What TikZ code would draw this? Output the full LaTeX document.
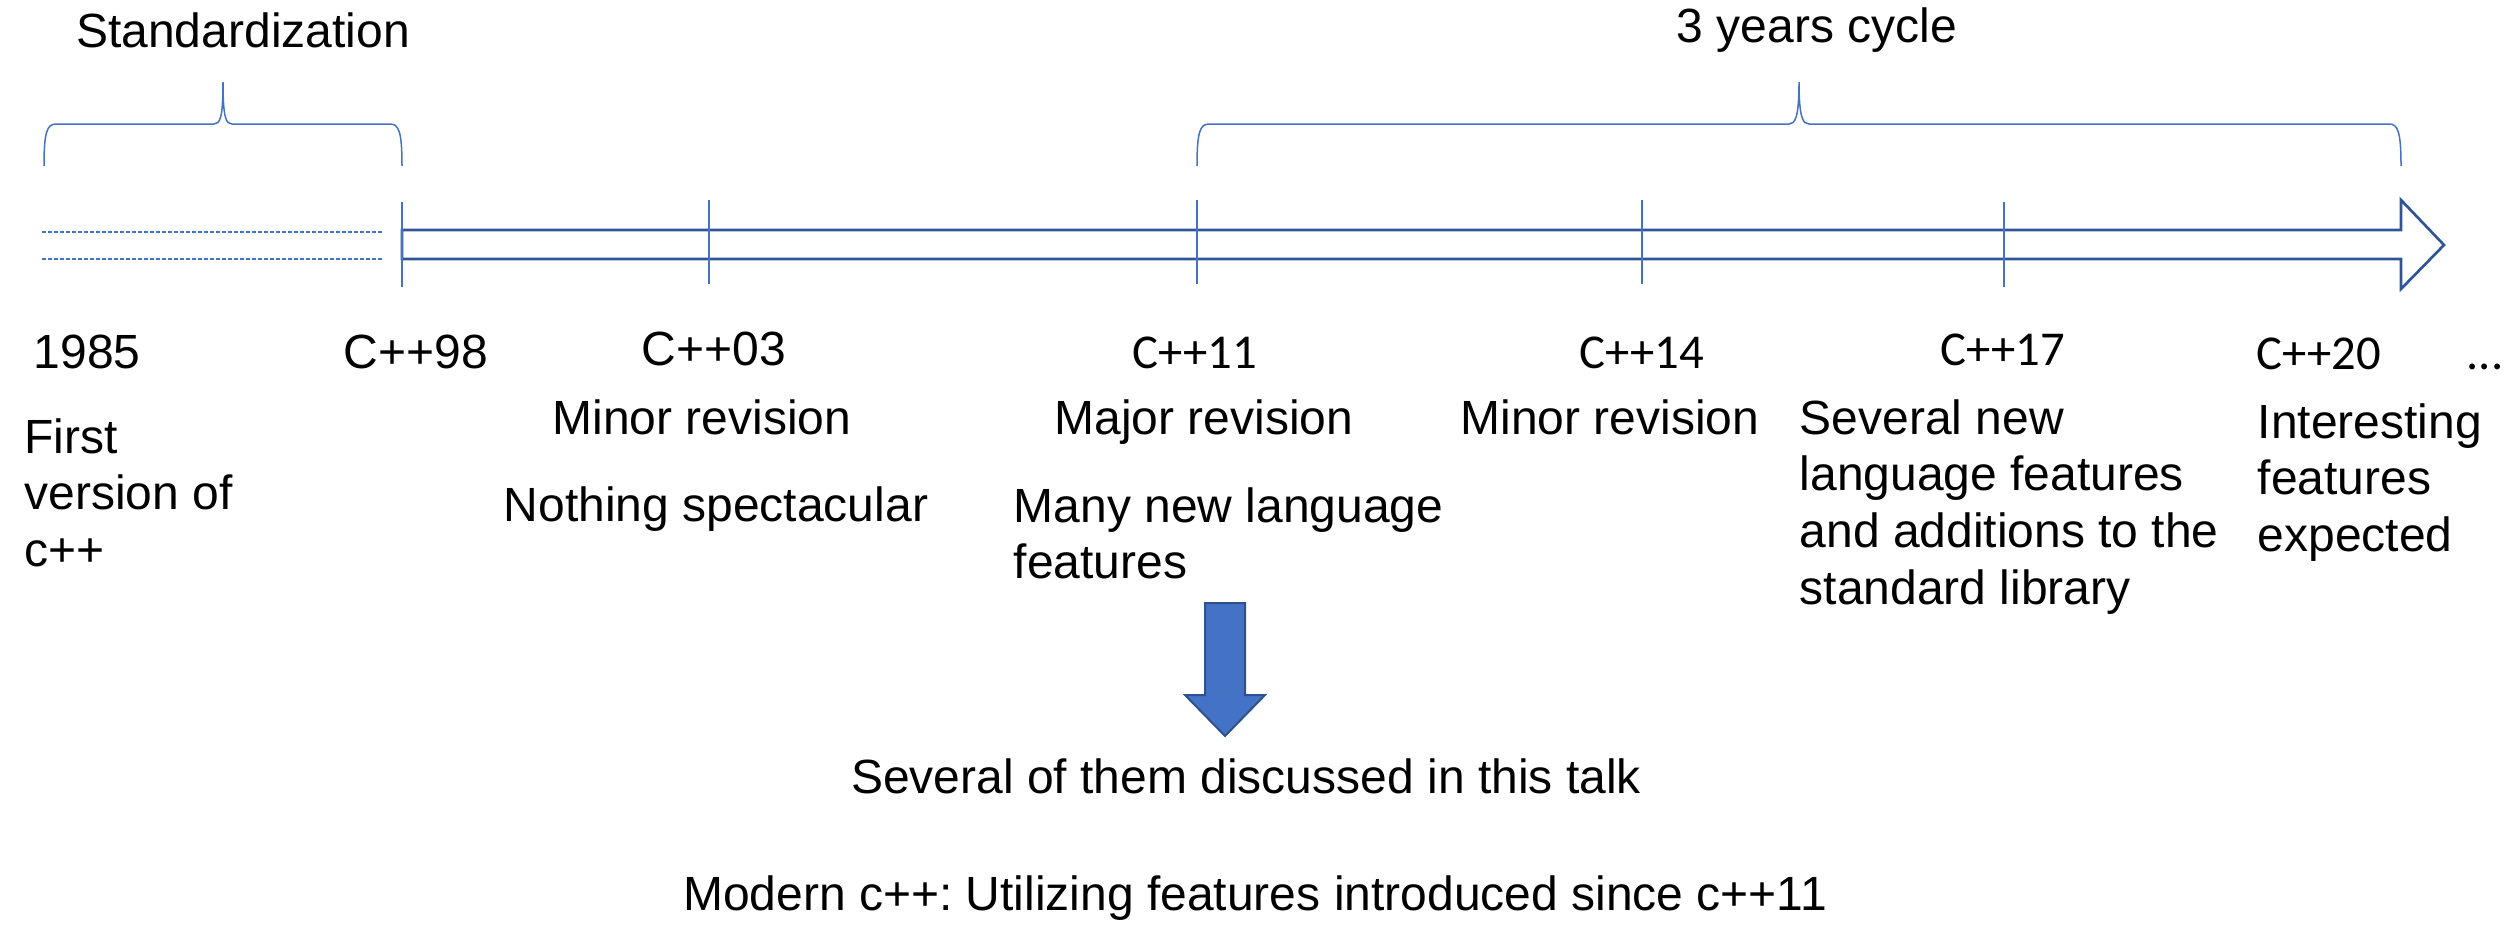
\documentclass[tikz,border=0pt]{standalone}
\usepackage{fontspec}
\setmainfont{Liberation Sans}
\newfontfamily\calibrifont{Carlito}
\definecolor{lineblue}{HTML}{4472C4}
\definecolor{darkblue}{HTML}{2F5597}
\definecolor{edgeblue}{HTML}{2F528F}
% stacked lines whose baseline is that of the first line
\newcommand\linestack[1]{\vtop{#1}}
\frenchspacing
\begin{document}
\begin{tikzpicture}[x=0.3pt,y=-0.3pt,
  txt/.style={inner sep=0pt, font=\fontsize{14.4pt}{17pt}\selectfont},
  txtw/.style={txt, anchor=base west},
  txtc/.style={txt, anchor=base},
  ver/.style={inner sep=0pt, anchor=base, font=\calibrifont\fontsize{14.6pt}{17pt}\selectfont},
  yearmark/.style={draw=lineblue, line width=0.45pt},
  bracepath/.style={draw=lineblue, line width=0.45pt},
  prehistory/.style={draw=lineblue, line width=0.5pt, dash pattern=on 1.2pt off 0.6pt},
  timeline/.style={draw=darkblue, line width=0.8pt, line join=miter},
  blockarrow/.style={fill=lineblue, draw=edgeblue, line width=0.6pt}]

\useasboundingbox (0,0) rectangle (2516,924);

% headings above the braces
\node[txtc] (std) at (243,47) {Standardization};
\node[txtc] (cycle) at (1817,42) {3 years cycle};

% curly braces
\draw[bracepath] (44,166) .. controls (44,132) and (47,124) .. (56,124) -- (214,124)
  .. controls (220,124) and (223,118) .. (223,82)
  .. controls (223,118) and (226,124) .. (232,124) -- (390,124)
  .. controls (399,124) and (402,132) .. (402,166);
\draw[bracepath] (1197,166) .. controls (1197,132) and (1200,124) .. (1209,124) -- (1789,124)
  .. controls (1795,124) and (1799,118) .. (1799,82)
  .. controls (1799,118) and (1803,124) .. (1809,124) -- (2389,124)
  .. controls (2398,124) and (2401,132) .. (2401,166);

% pre-standard period
\draw[prehistory] (42,232) -- (382,232);
\draw[prehistory] (42,259) -- (382,259);

% hollow timeline arrow
\draw[timeline] (402,230) -- (2401,230) -- (2401,200) -- (2444,245) -- (2401,289)
  -- (2401,259) -- (402,259) -- cycle;

% release marks
\draw[yearmark] (402,202) -- (402,287);
\draw[yearmark] (709,200) -- (709,284);
\draw[yearmark] (1197,200) -- (1197,284);
\draw[yearmark] (1642,200) -- (1642,284);
\draw[yearmark] (2004,202) -- (2004,287);

% release names
\node[txtw] (y85) at (33,368) {1985};
\node[txtc] (v98) at (416,368) {C++98};
\node[txtc] (v03) at (714,365) {C++03};
\node[ver] (v11) at (1195,368) {C++11};
\node[ver] (v14) at (1642,368) {C++14};
\node[ver] (v17) at (2003,365) {C++17};
\node[ver] (v20) at (2319,369) {C++20};
\node[ver, anchor=base west] (more) at (2466,369) {...};

% descriptions
\node[txtw] (d85) at (24,453) {\linestack{\hbox{First}\hbox{version of}\hbox{c++}}};
\node[txtc] (d03a) at (702,434) {Minor revision};
\node[txtc] (d03b) at (716,521) {Nothing spectacular};
\node[txtc] (d11a) at (1204,434) {Major revision};
\node[txtw] (d11b) at (1013,522) {\linestack{\hbox{Many new language}\hbox{features}}};
\node[txtc] (d14) at (1610,434) {Minor revision};
\node[txtw] (d17) at (1799,434) {\linestack{\hbox{Several new}\hbox{language features}\hbox{and additions to the}\hbox{standard library}}};
\node[txtw] (d20) at (2257,438) {\linestack{\hbox{Interesting}\hbox{features}\hbox{expected}}};

% block arrow towards the talk note
\draw[blockarrow] (1205,603) -- (1245,603) -- (1245,695) -- (1265,695) -- (1225,736)
  -- (1185,695) -- (1205,695) -- cycle;

\node[txtc] (talk) at (1246,793) {Several of them discussed in this talk};
\node[txtc] (modern) at (1255,910) {Modern c++: Utilizing features introduced since c++11};
\end{tikzpicture}
\end{document}
